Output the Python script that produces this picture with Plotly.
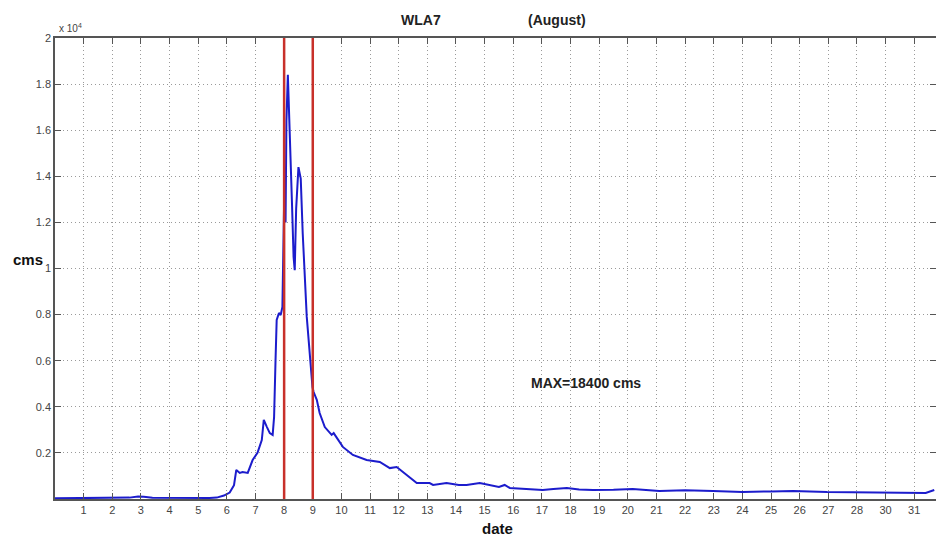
import plotly.graph_objects as go

# Hydrograph (x = day position on axis, y = discharge in cms)
day = [0.0, 1.0, 2.0, 2.6, 2.9, 3.1, 3.4, 4.0, 5.0, 5.4, 5.65, 5.9, 6.1, 6.25, 6.33, 6.45, 6.55, 6.73,
       6.9, 7.07, 7.22, 7.29, 7.4, 7.5, 7.6, 7.65, 7.7, 7.74, 7.82, 7.88, 7.94, 7.98, 8.02, 8.05,
       8.08, 8.13, 8.2, 8.27, 8.33, 8.37, 8.42, 8.5, 8.58, 8.65, 8.79, 8.9, 8.99, 9.03, 9.14, 9.24,
       9.42, 9.66, 9.73, 10.05, 10.4, 10.88, 11.34, 11.69, 11.93, 12.28, 12.63, 13.08, 13.2, 13.67,
       14.1, 14.37, 14.83, 15.5, 15.7, 15.88, 16.4, 17.03, 17.4, 17.87, 18.3, 18.78, 19.5, 20.17,
       21.1, 22.0, 22.97, 24.0, 25.0, 25.77, 26.95, 28.0, 29.25, 30.4, 30.7]
flow = [30, 30, 40, 60, 110, 100, 50, 40, 40, 45, 60, 150, 280, 600, 1260, 1130, 1170, 1130,
        1690, 2000, 2560, 3430, 3120, 2860, 2780, 3560, 6030, 7770, 8070, 7980, 8330, 11000, 14400, 12000,
        16400, 18400, 16000, 13000, 10500, 9930, 12600, 14400, 13900, 11500, 7900, 6030, 4860, 4640, 4300, 3730,
        3120, 2780, 2860, 2260, 1910, 1690, 1610, 1340, 1390, 1040, 690, 690, 610, 690,
        610, 610, 690, 520, 610, 480, 450, 390, 430, 480, 410, 390, 400, 430,
        350, 380, 350, 300, 330, 350, 300, 280, 260, 260, 390]

event_days = [8, 9]
tick_pos = list(range(1, 31))
tick_text = [str(d) for d in range(1, 29)] + ["30", "31"]
y_tickvals = [2000, 4000, 6000, 8000, 10000, 12000, 14000, 16000, 18000, 20000]
y_ticktext = ["0.2", "0.4", "0.6", "0.8", "1", "1.2", "1.4", "1.6", "1.8", "2"]

L, T, B, W, H = 55, 38, 41, 936, 540
PW = W - L
PH = H - T - B


def px(xp):
    return (xp - L) / PW


def py(yp):
    return (H - B - yp) / PH


fig = go.Figure()
fig.add_trace(go.Scatter(x=day, y=flow, mode="lines",
                         line=dict(color="#1c1ccc", width=2), showlegend=False))

for d in event_days:
    fig.add_shape(type="line", x0=d, x1=d, y0=0, y1=20000, xref="x", yref="y",
                  line=dict(color="#c8302a", width=2.5), layer="above")

font = "Liberation Sans, Arial, sans-serif"
axis_common = dict(ticks="inside", ticklen=6, tickcolor="#555555",
                   showline=True, linecolor="#555555", linewidth=1.5, mirror="ticks",
                   showgrid=True, gridcolor="#9a9a9a", griddash="1px,3px", gridwidth=1,
                   zeroline=False, automargin=False,
                   tickfont=dict(size=11, color="#444444"))
fig.update_layout(
    width=W, height=H,
    margin=dict(l=L, r=0, t=T, b=B),
    plot_bgcolor="white", paper_bgcolor="white",
    font=dict(family=font, size=11, color="#333333"),
    xaxis=dict(range=[0, 30.76], tickvals=tick_pos, ticktext=tick_text, **axis_common),
    yaxis=dict(range=[0, 20000], tickvals=y_tickvals, ticktext=y_ticktext, **axis_common),
)

fig.add_annotation(text="<b>WLA7</b>", xref="paper", yref="paper",
                   x=px(421), y=py(20), xanchor="center", yanchor="middle", showarrow=False,
                   font=dict(size=14, color="#222222"))
fig.add_annotation(text="<b>(August)</b>", xref="paper", yref="paper",
                   x=px(557), y=py(20), xanchor="center", yanchor="middle", showarrow=False,
                   font=dict(size=14, color="#222222"))
fig.add_annotation(text="x 10<sup>4</sup>", xref="paper", yref="paper",
                   x=px(57), y=py(28), xanchor="left", yanchor="middle", showarrow=False,
                   font=dict(size=10, color="#444444"))
fig.add_annotation(text="<b>cms</b>", xref="paper", yref="paper",
                   x=px(28), y=py(259), xanchor="center", yanchor="middle", showarrow=False,
                   font=dict(size=15, color="#111111"))
fig.add_annotation(text="<b>date</b>", xref="paper", yref="paper",
                   x=px(498), y=py(528), xanchor="center", yanchor="middle", showarrow=False,
                   font=dict(size=15, color="#111111"))
fig.add_annotation(text="<b>MAX=18400 cms</b>", x=16.55, y=5030, xref="x", yref="y",
                   xanchor="left", yanchor="middle", showarrow=False,
                   font=dict(size=14, color="#222222"))

fig.write_html("out.html", config={"displayModeBar": False},
               post_script="document.body.style.margin='0';document.body.style.overflow='hidden';")
